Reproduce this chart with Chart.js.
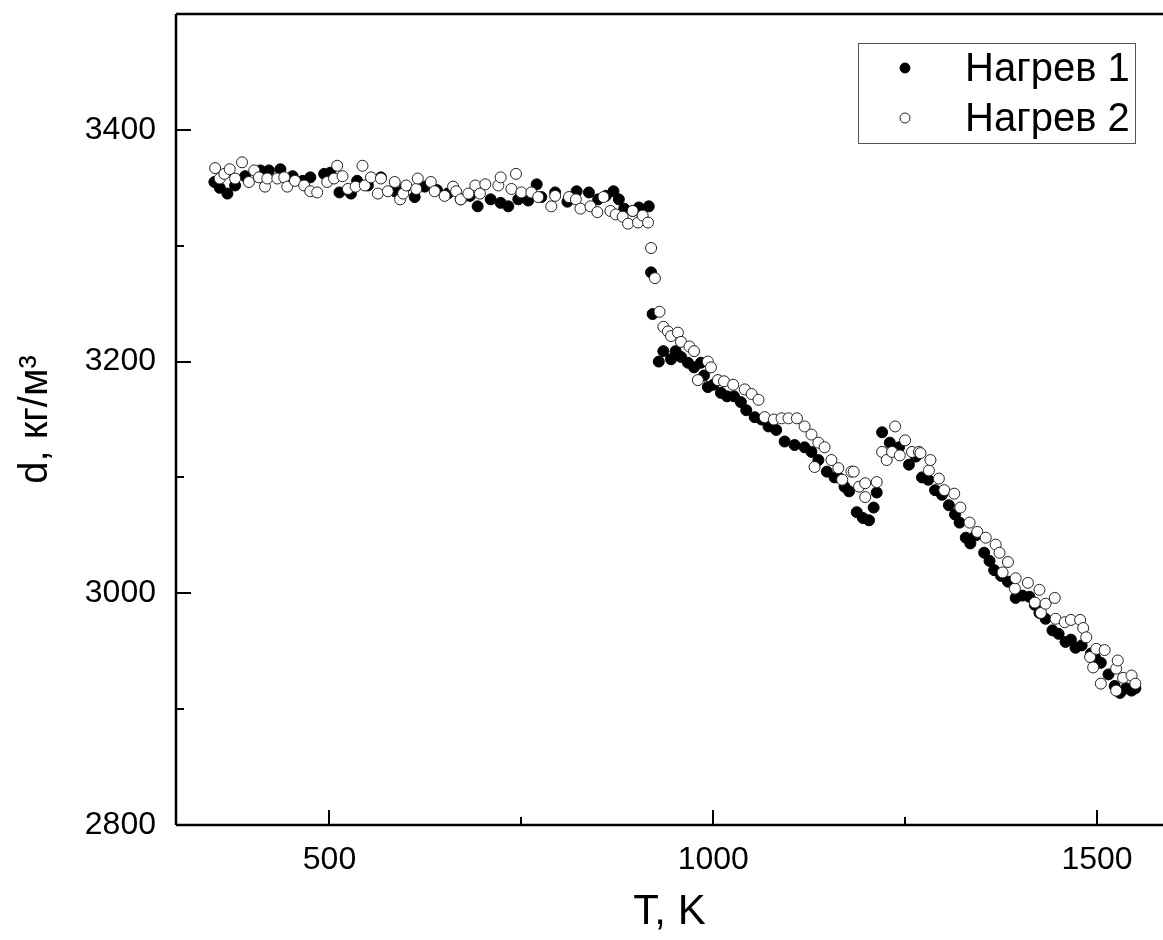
<!DOCTYPE html>
<html>
<head>
<meta charset="utf-8">
<script src="https://cdn.jsdelivr.net/npm/chart.js@4/dist/chart.umd.min.js"></script>
<style>
  html, body { margin: 0; padding: 0; background: #fff; }
  #wrap { width: 1163px; height: 940px; }
</style>
</head>
<body>
<div id="wrap"><canvas id="densityChart" width="1163" height="940"></canvas></div>
<script>
// ── Data ─────────────────────────────────────────────────────────────────────
const SERIES_LABELS = ['Нагрев 1', 'Нагрев 2'];

const T1 = [350, 357, 367, 377, 390, 410, 421, 436, 452, 465, 475, 493, 501, 513, 528, 536, 550, 567, 585, 598,
  611, 624, 640, 654, 671, 683, 693, 710, 723, 733, 746, 759, 770, 776, 794, 810, 822, 838, 850, 860,
  870, 877, 884, 895, 903, 916, 919, 921, 929, 935, 945, 951, 958, 967, 975, 984, 988, 993, 1000, 1010,
  1018, 1027, 1036, 1043, 1054, 1063, 1072, 1082, 1093, 1106, 1119, 1128, 1137, 1148, 1158, 1163, 1171, 1177, 1187, 1195,
  1203, 1209, 1213, 1220, 1230, 1242, 1255, 1264, 1272, 1280, 1289, 1298, 1307, 1315, 1321, 1329, 1335, 1342, 1353, 1360,
  1366, 1375, 1384, 1394, 1403, 1412, 1419, 1425, 1433, 1442, 1450, 1459, 1466, 1472, 1480, 1492, 1498, 1505, 1515, 1523,
  1530, 1538, 1545, 1550];
const D1 = [3355, 3350, 3345, 3352, 3360, 3365, 3365, 3366, 3360, 3356, 3359, 3362, 3363, 3346, 3345, 3356, 3352, 3359, 3347, 3350,
  3342, 3351, 3348, 3345, 3340, 3343, 3334, 3340, 3337, 3334, 3340, 3339, 3353, 3342, 3346, 3338, 3347, 3346, 3340, 3343,
  3347, 3340, 3332, 3330, 3333, 3334, 3277, 3241, 3200, 3209, 3202, 3209, 3204, 3199, 3195, 3199, 3188, 3178, 3180, 3173,
  3170, 3170, 3165, 3158, 3152, 3150, 3144, 3141, 3131, 3128, 3126, 3122, 3115, 3105, 3100, 3100, 3092, 3088, 3070, 3065,
  3063, 3074, 3087, 3139, 3130, 3126, 3111, 3118, 3100, 3098, 3089, 3085, 3076, 3068, 3061, 3048, 3043, 3050, 3035, 3028,
  3020, 3015, 3010, 2996, 2998, 2997, 2990, 2983, 2978, 2968, 2965, 2958, 2960, 2953, 2955, 2948, 2944, 2940, 2930, 2920,
  2914, 2918, 2916, 2918];

const T2 = [351, 357, 363, 370, 377, 386, 395, 402, 408, 416, 419, 432, 441, 445, 455, 467, 475, 484, 497, 506,
  510, 517, 524, 534, 543, 546, 554, 563, 567, 576, 585, 592, 596, 600, 613, 615, 632, 637, 650, 661,
  665, 671, 681, 690, 696, 703, 720, 723, 737, 743, 750, 763, 772, 789, 794, 812, 821, 827, 840, 849,
  857, 866, 873, 882, 889, 895, 902, 908, 915, 919, 924, 930, 935, 941, 945, 954, 958, 969, 975, 980,
  993, 997, 1006, 1014, 1026, 1041, 1050, 1059, 1067, 1079, 1089, 1098, 1109, 1119, 1128, 1132, 1137, 1145, 1154, 1163,
  1168, 1180, 1183, 1190, 1198, 1198, 1213, 1220, 1226, 1233, 1237, 1243, 1250, 1259, 1268, 1270, 1281, 1283, 1294, 1301,
  1314, 1322, 1334, 1344, 1355, 1368, 1373, 1377, 1384, 1393, 1394, 1410, 1419, 1425, 1427, 1433, 1445, 1446, 1458, 1466,
  1478, 1482, 1486, 1491, 1495, 1499, 1505, 1510, 1525, 1525, 1527, 1534, 1545, 1550];
const D2 = [3367, 3358, 3362, 3366, 3358, 3372, 3355, 3365, 3359, 3351, 3358, 3358, 3359, 3351, 3356, 3352, 3347, 3346, 3355, 3358,
  3369, 3360, 3349, 3351, 3369, 3352, 3359, 3345, 3358, 3347, 3355, 3340, 3345, 3352, 3349, 3358, 3355, 3347, 3343, 3351,
  3347, 3340, 3345, 3352, 3345, 3353, 3352, 3359, 3349, 3362, 3346, 3346, 3342, 3334, 3343, 3342, 3340, 3332, 3334, 3329,
  3342, 3330, 3327, 3325, 3319, 3330, 3320, 3326, 3320, 3298, 3272, 3243, 3230, 3226, 3222, 3225, 3217, 3213, 3209, 3184,
  3200, 3195, 3184, 3183, 3180, 3176, 3172, 3167, 3152, 3150, 3151, 3151, 3151, 3144, 3137, 3109, 3130, 3126, 3115, 3108,
  3098, 3105, 3105, 3092, 3095, 3083, 3096, 3122, 3115, 3122, 3144, 3119, 3132, 3122, 3122, 3121, 3106, 3115, 3099, 3089,
  3086, 3074, 3061, 3053, 3048, 3042, 3035, 3018, 3027, 3004, 3013, 3009, 2992, 3003, 2983, 2991, 2996, 2978, 2975, 2977,
  2977, 2970, 2962, 2945, 2936, 2952, 2922, 2951, 2935, 2916, 2942, 2927, 2929, 2922];

const X_TICKS = [500, 750, 1000, 1250, 1500];
const X_LABELED = [500, 1000, 1500];
const Y_TICKS = [2800, 2900, 3000, 3100, 3200, 3300, 3400, 3500];
const Y_LABELED = [2800, 3000, 3200, 3400];

// ── Helpers ──────────────────────────────────────────────────────────────────
const FONT = "Arial, 'Liberation Sans', sans-serif";
const toPoints = (xs, ys) => xs.map((x, i) => ({ x, y: ys[i] }));
const noEdgePad = s => { s.paddingTop = 0; s.paddingBottom = 0; s.paddingLeft = 0; s.paddingRight = 0; };

// axes frame with inward ticks, drawn from the scales
const framePlugin = {
  id: 'frame',
  afterDatasetsDraw(chart) {
    const { ctx, chartArea: a, scales } = chart;
    const xs = scales.x, ys = scales.y;
    ctx.save();
    ctx.strokeStyle = '#000';
    ctx.lineWidth = 2.5;
    ctx.beginPath();
    ctx.moveTo(a.left, a.top); ctx.lineTo(a.right, a.top);
    ctx.moveTo(a.left, a.top); ctx.lineTo(a.left, a.bottom);
    ctx.moveTo(a.left, a.bottom); ctx.lineTo(a.right, a.bottom);
    ctx.stroke();
    ctx.lineWidth = 2;
    ctx.beginPath();
    X_TICKS.forEach(v => {
      const px = Math.round(xs.getPixelForValue(v));
      const len = X_LABELED.includes(v) ? 15 : 8;
      ctx.moveTo(px, a.bottom); ctx.lineTo(px, a.bottom - len);
    });
    Y_TICKS.forEach(v => {
      if (v === 3500) return;
      const py = Math.round(ys.getPixelForValue(v));
      const len = Y_LABELED.includes(v) ? 15 : 8;
      ctx.moveTo(a.left, py); ctx.lineTo(a.left + len, py);
    });
    ctx.stroke();
    ctx.restore();
  },
};

// boxed legend in the upper right
const legendPlugin = {
  id: 'boxLegend',
  afterDraw(chart) {
    const { ctx } = chart;
    const box = { x: 858, y: 43, w: 277, h: 100 };
    ctx.save();
    ctx.strokeStyle = '#555';
    ctx.lineWidth = 1;
    ctx.strokeRect(box.x + 0.5, box.y + 0.5, box.w, box.h);
    ctx.font = `40px ${FONT}`;
    ctx.textBaseline = 'middle';
    chart.data.datasets.forEach((ds, i) => {
      const cy = box.y + 25 + i * 50;
      ctx.beginPath();
      ctx.arc(905, cy, 5, 0, Math.PI * 2);
      ctx.fillStyle = ds.backgroundColor;
      ctx.fill();
      ctx.strokeStyle = ds.borderColor;
      ctx.lineWidth = 1;
      ctx.stroke();
      ctx.fillStyle = '#000';
      ctx.fillText(ds.label, 965, cy + 2);
    });
    ctx.restore();
  },
};

// ── Chart ────────────────────────────────────────────────────────────────────
new Chart(document.getElementById('densityChart').getContext('2d'), {
  type: 'scatter',
  data: {
    datasets: [
      {
        label: SERIES_LABELS[0],
        data: toPoints(T1, D1),
        backgroundColor: '#000',
        borderColor: '#000',
        borderWidth: 1,
        pointRadius: 5.5,
        order: 1,
      },
      {
        label: SERIES_LABELS[1],
        data: toPoints(T2, D2),
        backgroundColor: '#fff',
        borderColor: '#222',
        borderWidth: 1,
        pointRadius: 5.5,
        order: 0,
      },
    ],
  },
  options: {
    responsive: false,
    animation: false,
    layout: { autoPadding: false, padding: { top: 14, right: 0, left: 0, bottom: 0 } },
    plugins: {
      legend: { display: false },
      tooltip: { enabled: false },
    },
    scales: {
      x: {
        type: 'linear',
        min: 300,
        max: 1586,
        afterBuildTicks: s => { s.ticks = X_TICKS.map(value => ({ value })); },
        afterFit: s => { s.height = 115; noEdgePad(s); },
        grid: { display: false, drawTicks: false },
        border: { display: false },
        ticks: {
          padding: 16,
          color: '#000',
          font: { family: FONT, size: 32 },
          maxRotation: 0,
          autoSkip: false,
          callback: v => (X_LABELED.includes(v) ? String(v) : ''),
        },
        title: {
          display: true,
          text: 'T, K',
          color: '#000',
          font: { family: FONT, size: 42 },
          padding: { top: 0, bottom: 2 },
        },
      },
      y: {
        type: 'linear',
        min: 2800,
        max: 3500,
        afterBuildTicks: s => { s.ticks = Y_TICKS.map(value => ({ value })); },
        afterFit: s => { s.width = 176; noEdgePad(s); },
        grid: { display: false, drawTicks: false },
        border: { display: false },
        ticks: {
          padding: 20,
          color: '#000',
          font: { family: FONT, size: 32 },
          autoSkip: false,
          callback: v => (Y_LABELED.includes(v) ? String(v) : ''),
        },
        title: {
          display: true,
          text: 'd, кг/м³',
          color: '#000',
          font: { family: FONT, size: 40 },
          padding: { top: 12, bottom: 0 },
        },
      },
    },
  },
  plugins: [framePlugin, legendPlugin],
});
</script>
</body>
</html>
